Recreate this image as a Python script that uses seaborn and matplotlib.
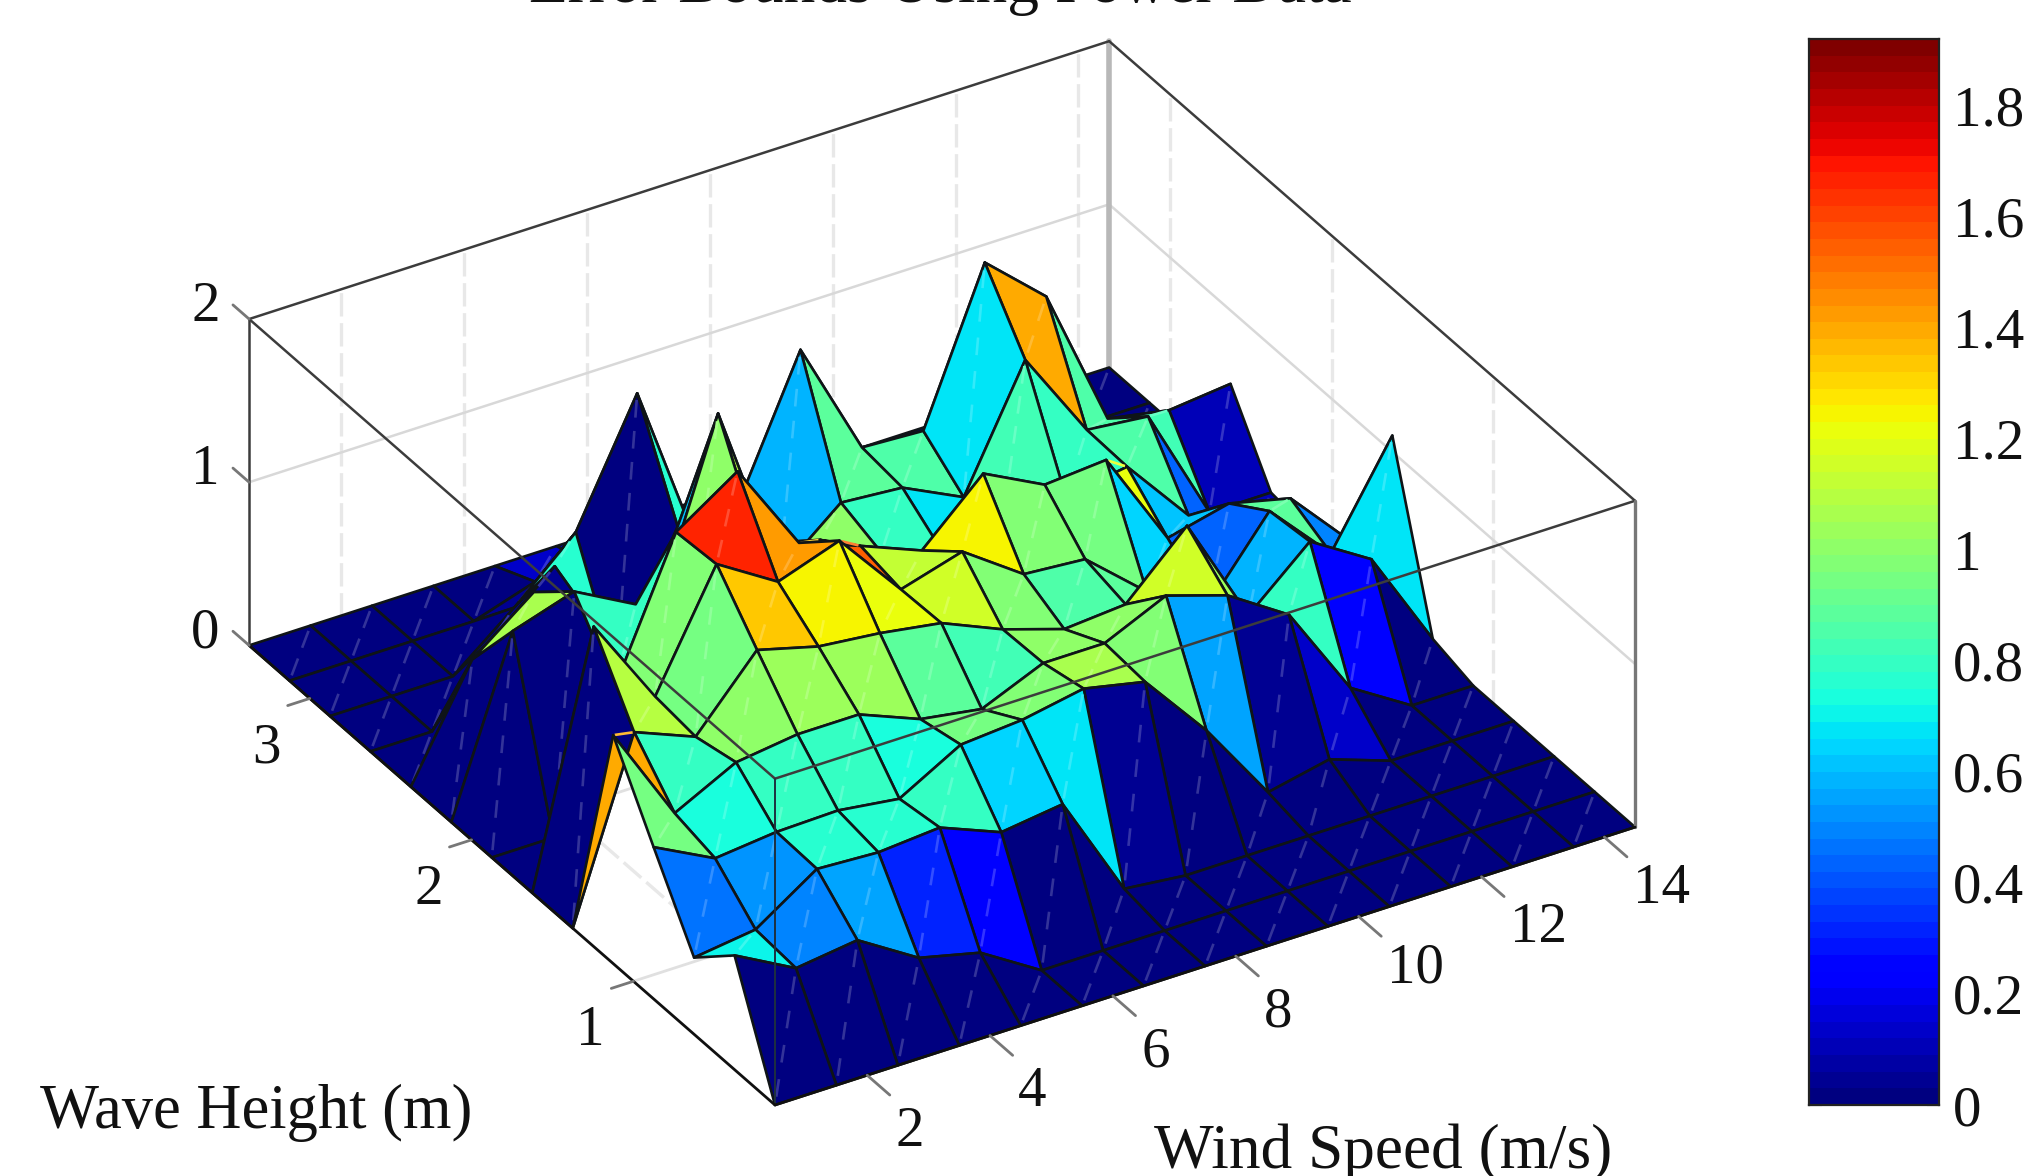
import numpy as np
import matplotlib
matplotlib.use("Agg")
import matplotlib.pyplot as plt
from mpl_toolkits.mplot3d import proj3d
from mpl_toolkits.mplot3d.art3d import Poly3DCollection
import seaborn as sns

# valores (uma linha por velocidade do vento)
wind = [0.5, 1.5, 2.5, 3.5, 4.5, 5.5, 6.5, 7.5, 8.5, 9.5, 10.5, 11.5, 12.5, 13.5, 14.5]
wave = [0.125, 0.375, 0.625, 0.875, 1.125, 1.375, 1.625, 1.875, 2.125, 2.375, 2.625, 2.875, 3.125, 3.375]
err_00 = [0, .70, .47, .93, 1.40, 0, 0, 0, 0, 0, 0, 0, 0, 0]
err_01 = [0, .50, .52, .74, .80, 1.08, 1.51, 0, 1.05, .66, 0, 0, 0, 0]
err_02 = [0, .55, .77, .78, .99, .93, .96, .80, 1.17, .95, .45, 0, 0, 0]
err_03 = [0, .32, .75, .79, 1.04, 1.34, 1.65, 1.63, .97, .64, .77, .30, 0, 0]
err_04 = [0, .23, .78, .74, 1.04, 1.24, 1.42, 1.88, 1.00, .60, 0, .64, .12, 0]
err_05 = [0, 0, .63, .95, .89, 1.20, 1.55, 1.32, 1.10, 1.68, .77, 1.37, .10, 0]
err_06 = [0, 0, .68, .98, .83, 1.14, 1.13, 1.18, 1.00, .58, .80, .30, 0, 0]
err_07 = [0, 0, .04, 1.05, .99, .98, 1.24, 1.03, .80, .89, 1.61, .20, 0, 0]
err_08 = [0, 0, 0, .97, .99, .86, .98, 1.38, .68, .86, .89, 0, 0, 0]
err_09 = [0, 0, 0, .55, 1.16, .89, .95, 1.19, .82, .68, .87, 0, 0, 0]
err_10 = [0, 0, 0, .05, 1.04, 1.25, .63, 1.22, .78, 1.40, 1.78, 0, 0, 0]
err_11 = [0, 0, 0, .13, .80, .58, .42, .62, .84, .85, 1.45, 0, 0, 0]
err_12 = [0, 0, 0, 0, .23, .91, .88, .71, .42, .81, .58, 0, 0, 0]
err_13 = [0, 0, 0, 0, 0, .68, .50, .62, .10, .10, .51, 0, 0, 0]
err_14 = [0, 0, 0, 0, 0, .07, 1.10, .23, .07, .10, .55, 0, 0, 0]
# celulas cuja cor na figura nao segue a altura do vertice
cor_celula = {(1, 9): 0.06, (2, 9): 0.04, (2, 10): 0.04, (11, 10): 0.0, (3, 11): 0.03}

wind_ticks = [2, 4, 6, 8, 10, 12, 14]
wave_ticks = [1, 2, 3]
z_ticks = [0, 1, 2]
cbar_ticks = [0, 0.2, 0.4, 0.6, 0.8, 1.0, 1.2, 1.4, 1.6, 1.8]
cbar_labels = ["0", "0.2", "0.4", "0.6", "0.8", "1", "1.2", "1.4", "1.6", "1.8"]
VMAX = 1.92
ASPECTO = (778.6, 783, 298)
ELEV, AZIM = 32.1, -121.3

sns.set_theme(style="white")
plt.rcParams["font.family"] = ["Liberation Serif", "DejaVu Serif"]

W, H = 2026, 1176
fig = plt.figure(figsize=(W / 100, H / 100), dpi=100)

erro = np.array([err_00, err_01, err_02, err_03, err_04, err_05, err_06, err_07,
                 err_08, err_09, err_10, err_11, err_12, err_13, err_14])
jet = plt.get_cmap("jet", 64)

# 1. superficie 3D (eixo quadrado maior que a figura para nao cortar nada)
pos0 = [0, (H - W) / 2 / H, 1, W / H]
ax = fig.add_axes(pos0, projection="3d", computed_zorder=False)
ax.set_proj_type("ortho")
ax.view_init(elev=ELEV, azim=AZIM)
xmin, xmax, ymin, ymax, zmin, zmax = wind[0], wind[-1], wave[0], wave[-1], 0, 2
ax.set_xlim(xmin, xmax)
ax.set_ylim(ymin, ymax)
ax.set_zlim(zmin, zmax)
ax.set_box_aspect(ASPECTO, zoom=1.0)
ax.set_axis_off()
ax.patch.set_alpha(0)

# direcao da camera, para por os tracos claros logo a frente da sua celula
esc = np.array([ASPECTO[0] / (xmax - xmin), ASPECTO[1] / (ymax - ymin), ASPECTO[2] / (zmax - zmin)])
e, a = np.radians(ELEV), np.radians(AZIM)
cam = np.array([np.cos(e) * np.cos(a), np.cos(e) * np.sin(a), np.sin(e)])
ARESTA = (0.06, 0.08, 0.09, 1)

polys, faces, bordas = [], [], []
for i in range(len(wind) - 1):
    for j in range(len(wave) - 1):
        p00 = np.array([wind[i], wave[j], erro[i, j]])
        p10 = np.array([wind[i + 1], wave[j], erro[i + 1, j]])
        p11 = np.array([wind[i + 1], wave[j + 1], erro[i + 1, j + 1]])
        p01 = np.array([wind[i], wave[j + 1], erro[i, j + 1]])
        cor = jet(min(cor_celula.get((i, j), erro[i, j]) / VMAX, 1.0))
        polys.append([p00, p10, p11, p01])
        faces.append(cor)
        bordas.append(ARESTA)

        # costura clara ao longo da diagonal de cada celula
        prof = np.mean([(p * esc) @ cam for p in (p00, p10, p11, p01)])
        tam = np.hypot(21.0, 55.0 + 167.0 * (erro[i + 1, j + 1] - erro[i, j]))
        n = max(1, int(round(tam / 33.0)))
        clara = tuple(0.8 * np.array(cor[:3]) + 0.2) + (1,)
        for k in range(n):
            meio = (k + 0.5) / n
            meia = min(9.0 / tam, 0.5 / n)
            q0 = p00 + (p11 - p00) * (meio - meia)
            q1 = p00 + (p11 - p00) * (meio + meia)
            s = prof + 0.5 - ((q0 + q1) / 2 * esc) @ cam
            desloc = s * cam / esc
            polys.append([q0 + desloc, q1 + desloc])
            faces.append(clara)
            bordas.append(clara)

sup = Poly3DCollection(polys, facecolors=faces, edgecolors=bordas, linewidths=1.9, zorder=3)
ax.add_collection3d(sup, autolim=False)

# 2. grades (atras da superficie)
grid_kw = dict(color="#e8e8e8", lw=2.4, ls=(0, (7, 2)), zorder=1)
for t in wind_ticks:
    ax.plot([t, t], [ymin, ymax], [0, 0], **grid_kw)
    ax.plot([t, t], [ymax, ymax], [0, 2], **grid_kw)
for t in wave_ticks:
    ax.plot([xmin, xmax], [t, t], [0, 0], color="#e0e0e0", lw=2.0, zorder=1)
    ax.plot([xmax, xmax], [t, t], [0, 2], **grid_kw)
ax.plot([xmin, xmax], [ymax, ymax], [1, 1], color="#d8d8d8", lw=1.8, zorder=1)
ax.plot([xmax, xmax], [ymin, ymax], [1, 1], color="#d8d8d8", lw=1.8, zorder=1)

# 3. caixa
box = dict(color="#3c3c3c", lw=1.8, zorder=5)
ax.plot([xmin, xmax], [ymax, ymax], [2, 2], **box)
ax.plot([xmax, xmax], [ymin, ymax], [2, 2], **box)
ax.plot([xmin, xmax], [ymin, ymin], [2, 2], **box)
ax.plot([xmin, xmin], [ymin, ymax], [2, 2], **box)
ax.plot([xmin, xmin], [ymax, ymax], [0, 2], **box)
ax.plot([xmin, xmin], [ymin, ymin], [0, 2], color="#1e3040", lw=1.4, zorder=5)
ax.plot([xmax, xmax], [ymin, ymin], [0, 2], color="#777777", lw=2.4, zorder=5)
ax.plot([xmax, xmax], [ymax, ymax], [0, 2], color="#b8b8b8", lw=4.0, zorder=1)
ax.plot([xmin, xmin], [ymin, ymax], [0, 0], color="#101010", lw=2.0, zorder=5)
ax.plot([xmin, xmax], [ymin, ymin], [0, 0], color="#101010", lw=2.0, zorder=5)

# 4. marcas dos eixos
tick_kw = dict(color="#777777", lw=2.0, zorder=5)
for t in wind_ticks:
    ax.plot([t, t], [ymin, ymin - 0.14], [0, 0], **tick_kw)
for t in wave_ticks:
    ax.plot([xmin, xmin - 0.36], [t, t], [0, 0], **tick_kw)
for t in z_ticks:
    ax.plot([xmin, xmin], [ymax, ymax + 0.1], [t, t], **tick_kw)


# 5. encaixa a caixa na posicao da figura original
def para_pixel(x, y, z):
    px, py, _ = proj3d.proj_transform(x, y, z, ax.get_proj())
    return ax.transData.transform((px, py))


alvo_frente = np.array([775.0, H - 1105.0])
alvo_dir = np.array([1635.0, H - 827.0])
fig.canvas.draw()
zoom = np.linalg.norm(alvo_dir - alvo_frente) / np.linalg.norm(
    para_pixel(xmax, ymin, 0) - para_pixel(xmin, ymin, 0))
ax.set_box_aspect(ASPECTO, zoom=zoom)
fig.canvas.draw()
dx, dy = alvo_frente - para_pixel(xmin, ymin, 0)
ax.set_position([pos0[0] + dx / W, pos0[1] + dy / H, pos0[2], pos0[3]])
fig.canvas.draw()

# rotulos dos eixos como texto 2D, na posicao projetada
rotulos = [(t - 0.15 + (0.24 if t >= 10 else 0), ymin - 0.32, -0.05, str(t)) for t in wind_ticks]
rotulos += [(xmin - 0.7, t, -0.22, str(t)) for t in wave_ticks]
rotulos += [(xmin, ymax + 0.27, t - 0.16, str(t)) for t in z_ticks]
for rx, ry, rz, txt in rotulos:
    px, py = para_pixel(rx, ry, rz)
    fig.text(px / W, py / H, txt, fontsize=41, color="#111111", ha="center", va="center")

# 6. barra de cores
cax = fig.add_axes([1809 / W, 1 - 1105 / H, 130 / W, 1066 / H])
niveis = (np.arange(64) + 0.5) / 64 * VMAX
sns.heatmap(niveis.reshape(-1, 1), cmap=jet, vmin=0, vmax=VMAX, cbar=False, ax=cax)
cax.set_ylim(0, 64)
cax.set_xticks([])
cax.set_yticks([v / VMAX * 64 for v in cbar_ticks])
cax.set_yticklabels(cbar_labels, rotation=0, fontsize=41, color="#111111")
cax.yaxis.tick_right()
cax.tick_params(axis="y", left=True, right=True, direction="in", length=9, width=1.5,
                color="#333333", pad=10)
for s in cax.spines.values():
    s.set_visible(True)
    s.set_color("#222222")
    s.set_linewidth(1.6)

# 7. textos
fig.text(940 / W, 1 - 1.5 / H, "Error Bounds Using Power Data", fontsize=45.5, color="#111111",
         ha="center", va="baseline")
fig.text(256 / W, 1 - 1113 / H, "Wave Height (m)", fontsize=45, color="#111111",
         ha="center", va="center")
fig.text(1383 / W, 1 - 1153 / H, "Wind Speed (m/s)", fontsize=45.5, color="#111111",
         ha="center", va="center")

fig.savefig("out.png", dpi=100)
